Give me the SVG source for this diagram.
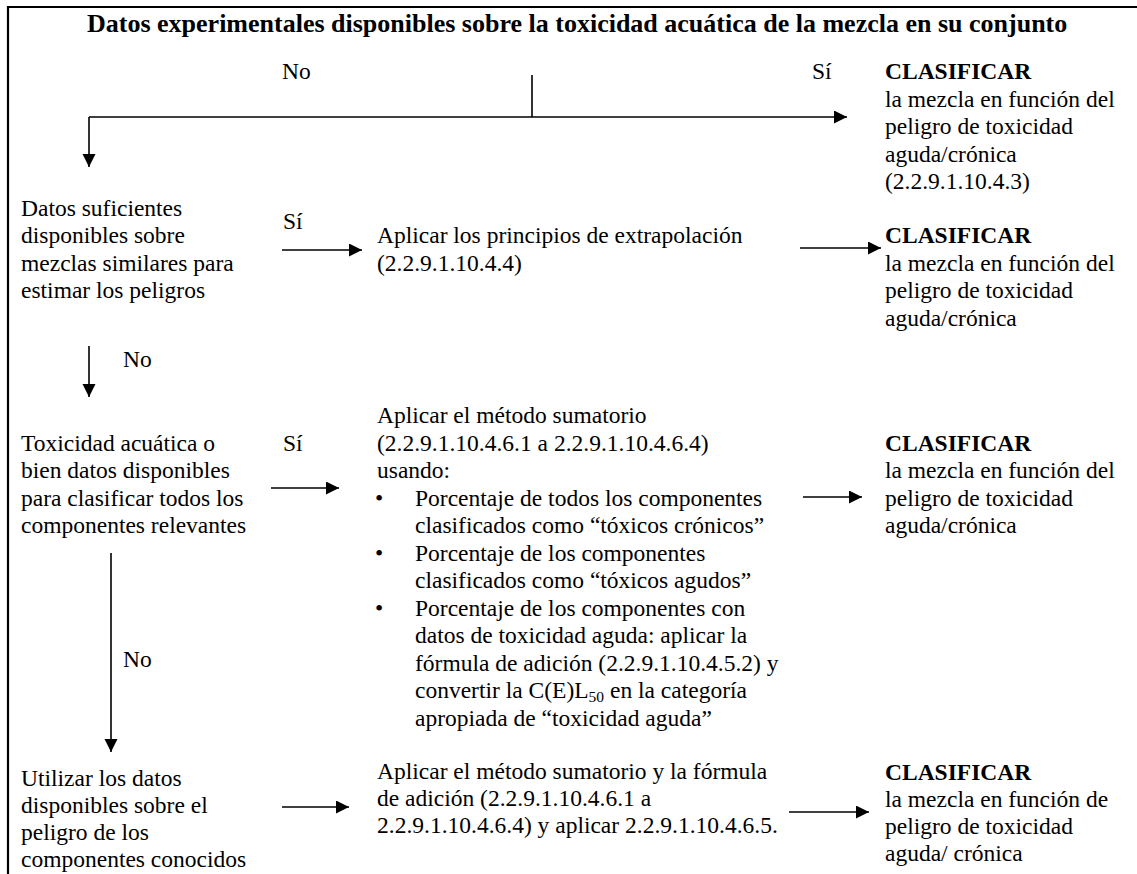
<svg xmlns="http://www.w3.org/2000/svg" width="1137" height="874" viewBox="0 0 1137 874">
<defs>
<style>
text{font-family:"Liberation Serif","Times New Roman",serif;font-size:23.5px;fill:#000}
.b{font-weight:bold}
.t{font-weight:bold;font-size:26px}
.sub{font-size:15.5px}
.ln{stroke:#000;stroke-width:1.6;fill:none}
.fr{stroke:#000;stroke-width:2.2;fill:none}
</style>
<marker id="ah" markerUnits="userSpaceOnUse" markerWidth="14" markerHeight="14" refX="13" refY="6.5" orient="auto">
<path d="M0,0 L13,6.5 L0,13 z" fill="#000"/>
</marker>
</defs>
<rect width="1137" height="874" fill="#fff"/>
<g id="frame">
<path class="fr" d="M8,874 V7 H1137"/>
</g>
<g id="title"><text class="t" x="87" y="32">Datos experimentales disponibles sobre la toxicidad acuática de la mezcla en su conjunto</text></g>
<g id="connectors">
<path class="ln" d="M532,75 V117"/>
<path class="ln" d="M89,117 H847" marker-end="url(#ah)"/>
<path class="ln" d="M89,117 V167" marker-end="url(#ah)"/>
<path class="ln" d="M282,250 H362" marker-end="url(#ah)"/>
<path class="ln" d="M800,248 H881" marker-end="url(#ah)"/>
<path class="ln" d="M89,346 V397" marker-end="url(#ah)"/>
<path class="ln" d="M271,488 H339" marker-end="url(#ah)"/>
<path class="ln" d="M803,497 H862" marker-end="url(#ah)"/>
<path class="ln" d="M111,553 V752" marker-end="url(#ah)"/>
<path class="ln" d="M282,807 H349" marker-end="url(#ah)"/>
<path class="ln" d="M789,812 H869" marker-end="url(#ah)"/>
</g>
<g id="labels">
<text x="282" y="79">No</text>
<text x="812" y="79">Sí</text>
<text x="283" y="229">Sí</text>
<text x="123" y="367">No</text>
<text x="283" y="450.5">Sí</text>
<text x="123" y="667">No</text>
</g>
<g id="clasificar1">
<text class="b" x="885" y="79">CLASIFICAR</text>
<text x="885" y="106.5">la mezcla en función del</text>
<text x="885" y="134">peligro de toxicidad</text>
<text x="885" y="161.5">aguda/crónica</text>
<text x="885" y="189">(2.2.9.1.10.4.3)</text>
</g>
<g id="similares">
<text x="21" y="215.5">Datos suficientes</text>
<text x="21" y="243">disponibles sobre</text>
<text x="21" y="270.5">mezclas similares para</text>
<text x="21" y="298">estimar los peligros</text>
</g>
<g id="extrapolacion">
<text x="377" y="243">Aplicar los principios de extrapolación</text>
<text x="377" y="270.5">(2.2.9.1.10.4.4)</text>
</g>
<g id="clasificar2">
<text class="b" x="885" y="243">CLASIFICAR</text>
<text x="885" y="270.5">la mezcla en función del</text>
<text x="885" y="298">peligro de toxicidad</text>
<text x="885" y="325.5">aguda/crónica</text>
</g>
<g id="toxicidad">
<text x="21" y="450.5">Toxicidad acuática o</text>
<text x="21" y="478">bien datos disponibles</text>
<text x="21" y="505.5">para clasificar todos los</text>
<text x="21" y="533">componentes relevantes</text>
</g>
<g id="sumatorio">
<text x="377" y="423">Aplicar el método sumatorio</text>
<text x="377" y="450.5">(2.2.9.1.10.4.6.1 a 2.2.9.1.10.4.6.4)</text>
<text x="377" y="478">usando:</text>
<text x="375" y="505.5">•</text>
<text x="415" y="505.5">Porcentaje de todos los componentes</text>
<text x="415" y="533">clasificados como “tóxicos crónicos”</text>
<text x="375" y="560.5">•</text>
<text x="415" y="560.5">Porcentaje de los componentes</text>
<text x="415" y="588">clasificados como “tóxicos agudos”</text>
<text x="375" y="615.5">•</text>
<text x="415" y="615.5">Porcentaje de los componentes con</text>
<text x="415" y="643">datos de toxicidad aguda: aplicar la</text>
<text x="415" y="670.5">fórmula de adición (2.2.9.1.10.4.5.2) y</text>
<text x="415" y="698">convertir la C(E)L<tspan class="sub" dy="4">50</tspan><tspan dy="-4"> en la categoría</tspan></text>
<text x="415" y="725.5">apropiada de “toxicidad aguda”</text>
</g>
<g id="clasificar3">
<text class="b" x="885" y="450.5">CLASIFICAR</text>
<text x="885" y="478">la mezcla en función del</text>
<text x="885" y="505.5">peligro de toxicidad</text>
<text x="885" y="533">aguda/crónica</text>
</g>
<g id="utilizar">
<text x="21" y="786">Utilizar los datos</text>
<text x="21" y="813">disponibles sobre el</text>
<text x="21" y="840">peligro de los</text>
<text x="21" y="867">componentes conocidos</text>
</g>
<g id="sumatorio2">
<text x="377" y="779">Aplicar el método sumatorio y la fórmula</text>
<text x="377" y="806">de adición (2.2.9.1.10.4.6.1 a</text>
<text x="377" y="833">2.2.9.1.10.4.6.4) y aplicar 2.2.9.1.10.4.6.5.</text>
</g>
<g id="clasificar4">
<text class="b" x="885" y="780">CLASIFICAR</text>
<text x="885" y="807">la mezcla en función de</text>
<text x="885" y="834">peligro de toxicidad</text>
<text x="885" y="861">aguda/ crónica</text>
</g>
</svg>
